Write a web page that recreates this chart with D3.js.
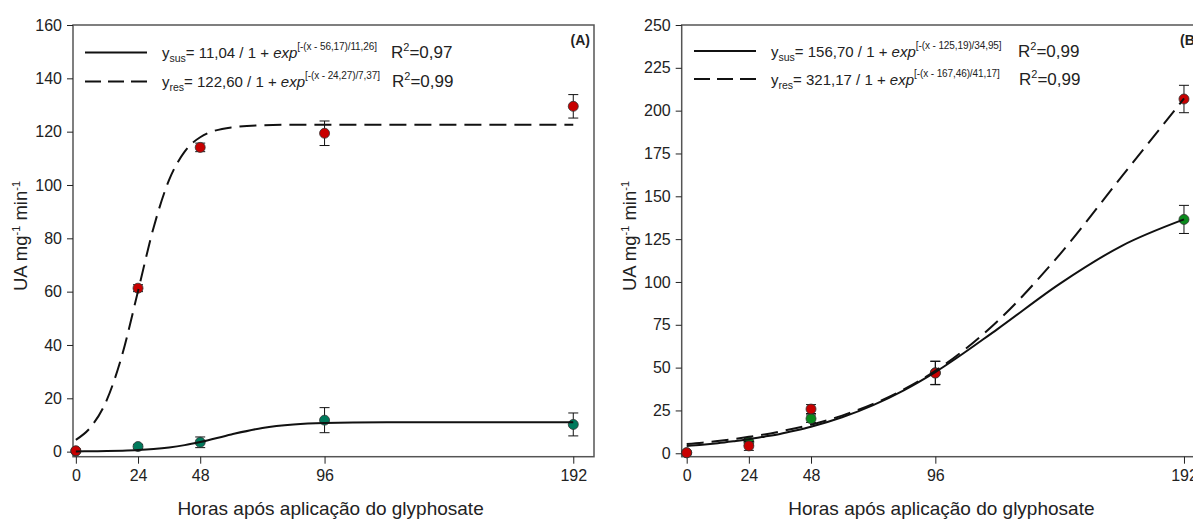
<!DOCTYPE html>
<html>
<head>
<meta charset="utf-8">
<script src="https://cdn.jsdelivr.net/npm/d3@7"></script>
<style>
  body { margin: 0; background: #fff; }
  text { font-family: "Liberation Sans", Arial, sans-serif; fill: #222; }
</style>
</head>
<body>
<script>
const w = 1193;
const h = 520;

// sampling hours
const hours = [0, 24, 48, 96, 192];
const xTicks = [0, 24, 48, 96, 192];

// panel A values (means and error)
const aRes = [0.3, 61.3, 114.1, 119.4, 129.5];
const aResErr = [0.6, 1.3, 1.6, 4.6, 4.4];
const aSus = [0.2, 1.9, 3.5, 11.8, 10.2];
const aSusErr = [0.3, 0.8, 2.0, 4.7, 4.3];

// panel B values
const bRes = [0.3, 4.3, 25.8, 46.8, 206.8];
const bResErr = [0.5, 2.6, 2.6, 6.8, 8.0];
const bSus = [0.3, 6.6, 20.2, 47.0, 136.5];
const bSusErr = [0.5, 2.0, 2.2, 6.8, 8.2];

// fitted curves read along the hour axis
const curveHours = [0, 6, 12, 18, 24, 30, 36, 42, 48, 60, 72, 84, 96, 120, 144, 168, 192];
const aResCurve = [4.4, 9.5, 19.5, 36.7, 60.2, 84.0, 101.9, 112.5, 117.9, 121.6, 122.4, 122.6, 122.6, 122.6, 122.6, 122.6, 122.6];
const aSusCurve = [0.08, 0.13, 0.21, 0.36, 0.60, 0.99, 1.58, 2.44, 3.60, 6.45, 8.87, 10.18, 10.73, 11.0, 11.04, 11.04, 11.04];
const bResCurve = [5.4, 6.2, 7.2, 8.3, 9.6, 11.0, 12.7, 14.6, 16.7, 22.0, 28.8, 37.4, 48.1, 77.1, 116.0, 161.6, 207.1];
const bSusCurve = [4.3, 5.0, 5.9, 7.0, 8.2, 9.7, 11.3, 13.3, 15.5, 21.0, 28.1, 36.9, 47.4, 72.5, 98.9, 121.1, 136.5];

// legend texts
const aLegend = [
  { sub: "sus", coef: "= 11,04 / 1 + ", sup: "[-(x - 56,17)/11,26]", r2: "=0,97", dash: false },
  { sub: "res", coef: "= 122,60 / 1 + ", sup: "[-(x - 24,27)/7,37]", r2: "=0,99", dash: true }
];
const bLegend = [
  { sub: "sus", coef: "= 156,70 / 1 + ", sup: "[-(x - 125,19)/34,95]", r2: "=0,99", dash: false },
  { sub: "res", coef: "= 321,17 / 1 + ", sup: "[-(x - 167,46)/41,17]", r2: "=0,99", dash: true }
];

const svg = d3.select("body").append("svg")
  .attr("width", w)
  .attr("height", h);

function drawPanel(cfg) {
  const x = d3.scaleLinear().domain(cfg.xDomain).range(cfg.xRange);
  const y = d3.scaleLinear().domain(cfg.yDomain).range([456.7, 25]);
  const g = svg.append("g");

  // frame
  g.append("rect")
    .attr("x", cfg.xRange[0]).attr("y", 25)
    .attr("width", cfg.xRange[1] - cfg.xRange[0])
    .attr("height", 456.7 - 25)
    .attr("fill", "none").attr("stroke", "#555").attr("stroke-width", 1.5);

  // axes
  const yAxis = g.append("g")
    .attr("transform", "translate(" + cfg.xRange[0] + ",0)")
    .call(d3.axisLeft(y).tickValues(cfg.yTicks).tickSize(6).tickPadding(5));
  const xAxis = g.append("g")
    .attr("transform", "translate(0,456.7)")
    .call(d3.axisBottom(x).tickValues(xTicks).tickSize(7).tickPadding(6));
  [yAxis, xAxis].forEach(a => {
    a.select(".domain").remove();
    a.selectAll("line").attr("stroke", "#222").attr("stroke-width", 1);
    a.selectAll("text").attr("font-size", 16).attr("fill", "#222")
      .attr("font-family", "Liberation Sans, Arial, sans-serif");
  });

  // axis titles
  g.append("text")
    .attr("x", (x(0) + x(192)) / 2 + 6).attr("y", 515)
    .attr("text-anchor", "middle").attr("font-size", 19)
    .text("Horas após aplicação do glyphosate");

  const yt = g.append("text")
    .attr("transform", "translate(" + (cfg.xRange[0] - 46) + ",236) rotate(-90)")
    .attr("text-anchor", "middle").attr("font-size", 18.5);
  yt.append("tspan").text("UA mg");
  yt.append("tspan").attr("font-size", 11).attr("dy", -7).text("-1");
  yt.append("tspan").attr("dy", 7).text(" min");
  yt.append("tspan").attr("font-size", 11).attr("dy", -7).text("-1");

  // points with error bars (sus first, res on top)
  const series = [
    { vals: cfg.sus, err: cfg.susErr, color: cfg.susColor },
    { vals: cfg.res, err: cfg.resErr, color: "#c80000" }
  ];
  series.forEach(s => {
    const pts = hours.map((hh, i) => ({ hh: hh, v: s.vals[i], e: s.err[i] }));
    const eb = g.append("g").selectAll("g").data(pts).enter().append("g")
      .attr("stroke", "#111").attr("stroke-width", 1);
    eb.append("line")
      .attr("x1", d => x(d.hh)).attr("x2", d => x(d.hh))
      .attr("y1", d => y(d.v - d.e)).attr("y2", d => y(d.v + d.e));
    eb.append("line")
      .attr("x1", d => x(d.hh) - 5).attr("x2", d => x(d.hh) + 5)
      .attr("y1", d => y(d.v + d.e)).attr("y2", d => y(d.v + d.e));
    eb.append("line")
      .attr("x1", d => x(d.hh) - 5).attr("x2", d => x(d.hh) + 5)
      .attr("y1", d => y(d.v - d.e)).attr("y2", d => y(d.v - d.e));
    g.append("g").selectAll("circle").data(pts).enter().append("circle")
      .attr("cx", d => x(d.hh)).attr("cy", d => y(d.v))
      .attr("r", 5)
      .attr("fill", s.color).attr("stroke", "#333").attr("stroke-width", 0.8);
  });

  // fitted curves
  const line = d3.line()
    .x(d => x(d[0])).y(d => y(d[1]))
    .curve(d3.curveMonotoneX);
  g.append("path")
    .datum(curveHours.map((hh, i) => [hh, cfg.susCurve[i]]))
    .attr("d", line).attr("fill", "none")
    .attr("stroke", "#111").attr("stroke-width", 2);
  g.append("path")
    .datum(curveHours.map((hh, i) => [hh, cfg.resCurve[i]]))
    .attr("d", line).attr("fill", "none")
    .attr("stroke", "#111").attr("stroke-width", 2)
    .attr("stroke-dasharray", "17,8");

  // legend
  cfg.legend.forEach((L, i) => {
    const ly = cfg.legY[i];
    g.append("line")
      .attr("x1", cfg.legX).attr("x2", cfg.legX + 62)
      .attr("y1", ly).attr("y2", ly)
      .attr("stroke", "#111").attr("stroke-width", 2)
      .attr("stroke-dasharray", L.dash ? "16,7" : null);
    const t = g.append("text")
      .attr("x", cfg.legX + 77).attr("y", ly + 5.5)
      .attr("font-size", 15);
    t.append("tspan").text("y");
    t.append("tspan").attr("font-size", 10.5).attr("dy", 4).text(L.sub);
    t.append("tspan").attr("dy", -4).text(L.coef);
    t.append("tspan").attr("font-style", "italic").text("exp");
    t.append("tspan").attr("font-size", 10).attr("dy", -8)
      .attr("letter-spacing", -0.1).text(L.sup);
    const r = g.append("text")
      .attr("x", cfg.r2X + (i ? 1 : 0)).attr("y", ly + 5.5)
      .attr("font-size", 17);
    r.append("tspan").text("R");
    r.append("tspan").attr("font-size", 11).attr("dy", -7).text("2");
    r.append("tspan").attr("dy", 7).text(L.r2);
  });

  g.append("text")
    .attr("x", cfg.tagX).attr("y", 45)
    .attr("text-anchor", cfg.tagAnchor)
    .attr("font-size", 14).attr("font-weight", "bold")
    .text(cfg.tag);
}

drawPanel({
  xDomain: [-1.1, 200], xRange: [73, 594],
  yDomain: [-1.9, 160], yTicks: d3.range(0, 161, 20),
  res: aRes, resErr: aResErr, sus: aSus, susErr: aSusErr,
  resCurve: aResCurve, susCurve: aSusCurve,
  susColor: "#007a5c",
  legend: aLegend, legX: 85, legY: [52.5, 81.5], r2X: 391,
  tag: "(A)", tagX: 590, tagAnchor: "end"
});

drawPanel({
  xDomain: [-1.93, 200], xRange: [681.7, 1204.7],
  yDomain: [-2, 250], yTicks: d3.range(0, 251, 25),
  res: bRes, resErr: bResErr, sus: bSus, susErr: bSusErr,
  resCurve: bResCurve, susCurve: bSusCurve,
  susColor: "#0a8a1c",
  legend: bLegend, legX: 694, legY: [51, 79], r2X: 1018,
  tag: "(B)", tagX: 1180, tagAnchor: "start"
});
</script>
</body>
</html>
